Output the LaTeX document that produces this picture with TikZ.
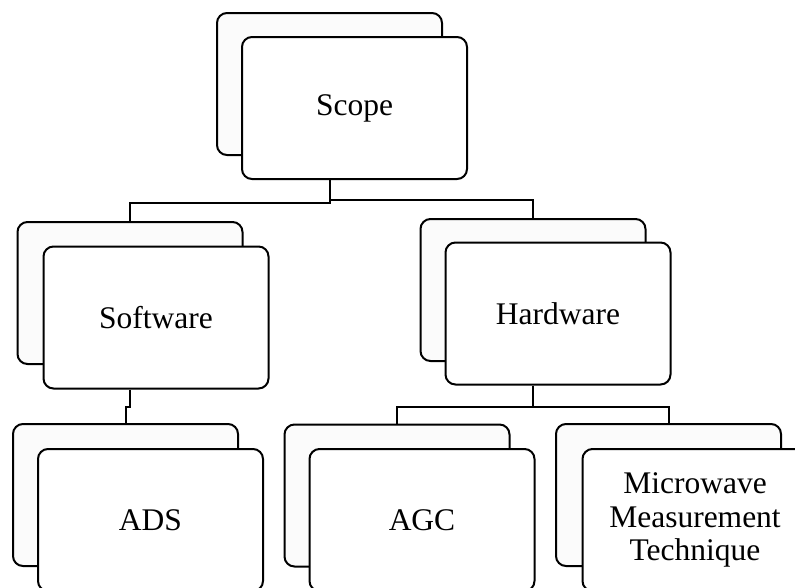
\documentclass[tikz,border=0pt]{standalone}
\usepackage{fontspec}
\setmainfont{Liberation Serif}
\tikzset{
  box/.style={draw=black, line width=2pt, rounded corners=10pt, minimum width=225pt, minimum height=142pt, inner sep=0pt, align=center, font=\fontsize{31.5}{33.5}\selectfont},
  backbox/.style={box, fill=black!1.5},
  frontbox/.style={box, fill=white},
  conn/.style={draw=black, line width=2pt}
}
\begin{document}
\begin{tikzpicture}[x=1pt,y=-1pt]
\useasboundingbox (0,0) rectangle (795,587);
% Scope
\node[backbox] (scopeB) at (329.5,84) {};
\node[frontbox] (scopeF) at (354.5,108) {Scope};
% Software
\node[backbox] (swB) at (130,293) {};
\node[frontbox] (swF) at (156,317.5) {Software};
% Hardware
\node[backbox] (hwB) at (533,290) {};
\node[frontbox] (hwF) at (558,313.5) {Hardware};
% ADS
\node[backbox] (adsB) at (125.5,495) {};
\node[frontbox] (adsF) at (150.5,520) {ADS};
% AGC
\node[backbox] (agcB) at (397,495.5) {};
\node[frontbox] (agcF) at (422,520) {AGC};
% Microwave
\node[backbox] (mwB) at (668.5,495) {};
\node[frontbox] (mwF) at (695,520) {Microwave\\Measurement\\Technique};
% connectors
\draw[conn] (scopeF.south -| scopeB.center) -- ++(0,23) -| (swB.north);
\draw[conn] (scopeF.south -| scopeB.center) -- ++(0,20) -| (hwB.north);
\draw[conn] (swF.south -| swB.center) -- ++(0,17) -| (adsB.north);
\draw[conn] (hwF.south -| hwB.center) -- ++(0,21) -| (agcB.north);
\draw[conn] (hwF.south -| hwB.center) -- ++(0,21) -| (mwB.north);
\end{tikzpicture}
\end{document}
